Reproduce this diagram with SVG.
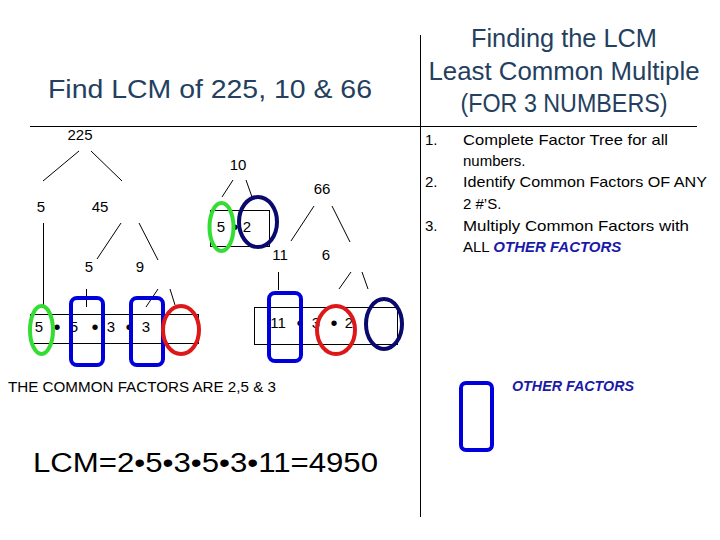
<svg xmlns="http://www.w3.org/2000/svg" width="720" height="540" viewBox="0 0 720 540">
<style>
text{font-family:"Liberation Sans",Arial,sans-serif;fill:#000}
.title{fill:#243F60;font-size:25px;text-anchor:middle}
.num{font-size:15px;text-anchor:middle}
.dot{font-size:20px;text-anchor:middle}
.list{font-size:15px}
.ln{stroke:#000;stroke-width:1;fill:none}
.box{stroke:#000;stroke-width:1;fill:none}
.green{stroke:#33dd33;stroke-width:4;fill:none}
.navy{stroke:#0a0a6e;stroke-width:4;fill:none}
.red{stroke:#dd1818;stroke-width:4;fill:none}
.blue{stroke:#0000dd;stroke-width:4;fill:none}
.other{fill:#1a1aa8;font-weight:bold;font-style:italic}
</style>
<rect width="720" height="540" fill="#fff"/>
<g id="frame">
<line class="ln" x1="30" y1="126.5" x2="697" y2="126.5"/>
<line class="ln" x1="420.5" y1="35" x2="420.5" y2="517"/>
</g>
<g id="titles">
<text class="title" x="210" y="98" textLength="324" lengthAdjust="spacingAndGlyphs">Find LCM of 225, 10 &amp; 66</text>
<text class="title" x="564" y="47" textLength="186" lengthAdjust="spacingAndGlyphs">Finding the LCM</text>
<text class="title" x="564" y="80" textLength="271" lengthAdjust="spacingAndGlyphs">Least Common Multiple</text>
<text class="title" x="564" y="112" textLength="207" lengthAdjust="spacingAndGlyphs">(FOR 3 NUMBERS)</text>
</g>
<g id="steps" class="list">
<text x="425" y="145">1.</text>
<text x="463" y="145" textLength="205" lengthAdjust="spacingAndGlyphs">Complete Factor Tree for all</text>
<text x="463" y="166">numbers.</text>
<text x="425" y="187">2.</text>
<text x="463" y="187" textLength="244" lengthAdjust="spacingAndGlyphs">Identify Common Factors OF ANY</text>
<text x="463" y="209">2 #’S.</text>
<text x="425" y="231">3.</text>
<text x="463" y="231" textLength="226" lengthAdjust="spacingAndGlyphs">Multiply Common Factors with</text>
<text x="463" y="252">ALL <tspan class="other">OTHER FACTORS</tspan></text>
</g>
<g id="connectors">
<line class="ln" x1="79" y1="151" x2="43" y2="181"/>
<line class="ln" x1="91" y1="151" x2="122" y2="181"/>
<line class="ln" x1="43.5" y1="223" x2="43.5" y2="306"/>
<line class="ln" x1="121" y1="223" x2="97" y2="259"/>
<line class="ln" x1="139" y1="223" x2="158" y2="260"/>
<line class="ln" x1="86.5" y1="289" x2="86.5" y2="307"/>
<line class="ln" x1="158" y1="289" x2="146" y2="307"/>
<line class="ln" x1="170" y1="289" x2="175" y2="305"/>
<line class="ln" x1="233" y1="180" x2="222" y2="197"/>
<line class="ln" x1="246" y1="180" x2="252" y2="197"/>
<line class="ln" x1="314" y1="206" x2="291" y2="241"/>
<line class="ln" x1="332" y1="206" x2="350" y2="242"/>
<line class="ln" x1="278.5" y1="272" x2="278.5" y2="290"/>
<line class="ln" x1="351" y1="272" x2="339" y2="289"/>
<line class="ln" x1="362" y1="272" x2="368" y2="289"/>
</g>
<g id="n225"><text class="num" x="80" y="140">225</text></g>
<g id="n5a"><text class="num" x="41" y="212">5</text></g>
<g id="n45"><text class="num" x="100" y="212">45</text></g>
<g id="n5b"><text class="num" x="89" y="272">5</text></g>
<g id="n9"><text class="num" x="140" y="272">9</text></g>
<g id="row225">
<rect class="box" x="30.5" y="314.5" width="168" height="29"/>
<text class="num" x="39" y="332">5</text>
<text class="dot" x="57" y="334">•</text>
<text class="num" x="74" y="332">5</text>
<text class="dot" x="95" y="334">•</text>
<text class="num" x="111" y="332">3</text>
<text class="dot" x="129" y="334">•</text>
<text class="num" x="146" y="332">3</text>
<ellipse class="green" cx="41.5" cy="330" rx="11.5" ry="24"/>
<rect class="blue" x="71" y="298" width="32" height="67" rx="6"/>
<rect class="blue" x="131" y="298" width="32" height="67" rx="6"/>
<ellipse class="red" cx="181" cy="330" rx="18" ry="24"/>
</g>
<g id="n10"><text class="num" x="238" y="170">10</text></g>
<g id="row10">
<rect class="box" x="210.5" y="210.5" width="59" height="36"/>
<text class="num" x="221" y="232">5</text>
<text class="dot" x="235" y="234">•</text>
<text class="num" x="247" y="232">2</text>
<ellipse class="green" cx="221.5" cy="227" rx="12" ry="24"/>
<ellipse class="navy" cx="258" cy="222" rx="19" ry="25"/>
</g>
<g id="n66"><text class="num" x="322" y="194">66</text></g>
<g id="n11"><text class="num" x="280" y="260">11</text></g>
<g id="n6"><text class="num" x="326" y="260">6</text></g>
<g id="row66">
<rect class="box" x="254.5" y="307.5" width="143" height="37"/>
<text class="num" x="278" y="328">11</text>
<text class="dot" x="300" y="330">•</text>
<text class="num" x="316" y="328">3</text>
<text class="dot" x="334" y="330">•</text>
<text class="num" x="349" y="328">2</text>
<rect class="blue" x="269" y="293" width="32" height="68" rx="6"/>
<ellipse class="red" cx="336" cy="330" rx="19" ry="24"/>
<ellipse class="navy" cx="384" cy="324" rx="18" ry="25"/>
</g>
<g id="summary">
<text x="8" y="392" font-size="14" textLength="268" lengthAdjust="spacingAndGlyphs">THE COMMON FACTORS ARE 2,5 &amp; 3</text>
<text x="33" y="472" font-size="27" textLength="345" lengthAdjust="spacingAndGlyphs">LCM=2•5•3•5•3•11=4950</text>
</g>
<g id="legend">
<rect class="blue" x="461" y="383" width="31" height="67" rx="5"/>
<text class="other" x="512" y="391" font-size="14" textLength="122" lengthAdjust="spacingAndGlyphs">OTHER FACTORS</text>
</g>
</svg>
